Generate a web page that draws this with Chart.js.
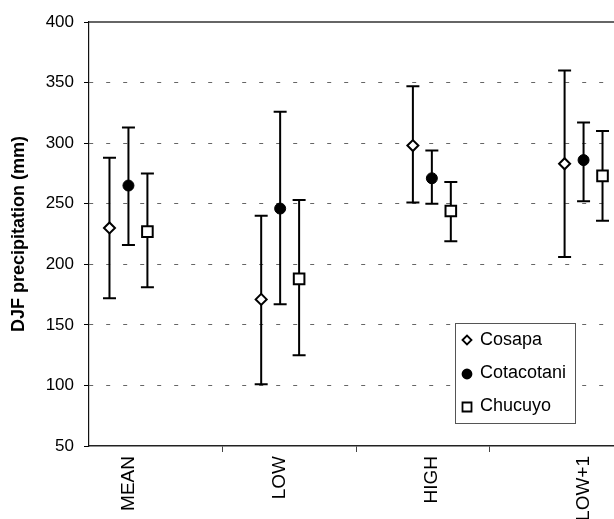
<!DOCTYPE html>
<html>
<head>
<meta charset="utf-8">
<script src="https://cdn.jsdelivr.net/npm/chart.js@4.4.1/dist/chart.umd.min.js"></script>
<style>
  html, body { margin: 0; padding: 0; background: #fff; overflow: hidden; }
  canvas { display: block; }
</style>
</head>
<body>
<canvas id="myChart" width="624" height="519"></canvas>
<script>
// categories along the bottom
var categories = ['MEAN', 'LOW', 'HIGH', 'LOW+1'];
var seriesNames = ['Cosapa', 'Cotacotani', 'Chucuyo'];

// DJF precipitation (mm): mean and error bar ends, per category
var cosapaMean = [230, 171, 298, 283];
var cosapaHigh = [288, 240, 347, 360];
var cosapaLow  = [172, 101, 251, 206];

var cotacotaniMean = [265, 246, 271, 286];
var cotacotaniHigh = [313, 326, 294, 317];
var cotacotaniLow  = [216, 167, 250, 252];

var chucuyoMean = [227, 188, 244, 273];
var chucuyoHigh = [275, 253, 268, 310];
var chucuyoLow  = [181, 125, 219, 236];

var yTicks = [50, 100, 150, 200, 250, 300, 350, 400];

var FONT = "'Liberation Sans', Arial, sans-serif";
var XMIN = -0.26, XMAX = 3.26;
var PLOT_RIGHT = 623; // plot frame runs a little past the right edge of the page

// build scatter points (x = category index shifted per series)
function makePoints(means, highs, lows, shift) {
    var pts = [];
    for (var i = 0; i < means.length; i++) {
        pts.push({ x: i + shift, y: means[i], hi: highs[i], lo: lows[i] });
    }
    return pts;
}

// error bars under the markers, plus the legend box and top frame line
var errorBarPlugin = {
    id: 'errorBars',
    afterLayout: function(chart) {
        // stretch the plot to the right so it is cut by the page edge like the original
        var area = chart.chartArea, xs = chart.scales.x;
        area.right = PLOT_RIGHT;
        area.width = area.right - area.left;
        xs.right = PLOT_RIGHT;
        xs.width = xs.right - xs.left;
        xs.configure();
    },
    beforeDatasetsDraw: function(chart) {
        var ctx = chart.ctx, xs = chart.scales.x, ys = chart.scales.y;
        ctx.save();
        ctx.strokeStyle = '#000';
        ctx.lineWidth = 2;
        chart.data.datasets.forEach(function(ds) {
            ds.data.forEach(function(p) {
                var x = xs.getPixelForValue(p.x);
                var top = ys.getPixelForValue(p.hi);
                var bot = ys.getPixelForValue(p.lo);
                ctx.beginPath();
                ctx.moveTo(x, top); ctx.lineTo(x, bot);
                ctx.moveTo(x - 6.5, top); ctx.lineTo(x + 6.5, top);
                ctx.moveTo(x - 6.5, bot); ctx.lineTo(x + 6.5, bot);
                ctx.stroke();
            });
        });
        ctx.restore();
    },
    afterDraw: function(chart) {
        var ctx = chart.ctx, area = chart.chartArea;
        ctx.save();
        // top frame
        ctx.strokeStyle = '#333';
        ctx.lineWidth = 1.5;
        ctx.beginPath();
        ctx.moveTo(area.left, area.top);
        ctx.lineTo(area.right, area.top);
        ctx.stroke();

        // legend
        var bx = 455, by = 323, bw = 120, bh = 100;
        ctx.fillStyle = '#fff';
        ctx.fillRect(bx, by, bw, bh);
        ctx.strokeStyle = '#555';
        ctx.lineWidth = 1;
        ctx.strokeRect(bx + 0.5, by + 0.5, bw, bh);
        ctx.font = '18px ' + FONT;
        ctx.textBaseline = 'middle';
        ctx.textAlign = 'left';
        chart.data.datasets.forEach(function(ds, i) {
            var cy = by + 17 + i * 33, cx = bx + 12;
            ctx.lineWidth = 1.8;
            ctx.strokeStyle = '#000';
            ctx.fillStyle = ds.backgroundColor;
            ctx.beginPath();
            if (ds.pointStyle === 'rectRot') {
                ctx.moveTo(cx - 4.5, cy); ctx.lineTo(cx, cy - 4.5);
                ctx.lineTo(cx + 4.5, cy); ctx.lineTo(cx, cy + 4.5);
                ctx.closePath();
            } else if (ds.pointStyle === 'circle') {
                ctx.arc(cx, cy + 1, 4.5, 0, Math.PI * 2);
            } else {
                ctx.rect(cx - 4.5, cy - 3.5, 9, 9);
            }
            ctx.fill();
            ctx.stroke();
            ctx.fillStyle = '#000';
            ctx.fillText(ds.label, cx + 13, cy);
        });
        ctx.restore();
    }
};

var ctx = document.getElementById('myChart').getContext('2d');

var chart = new Chart(ctx, {
    type: 'scatter',
    data: {
        datasets: [
            {
                label: seriesNames[0],
                data: makePoints(cosapaMean, cosapaHigh, cosapaLow, -0.125),
                pointStyle: 'rectRot',
                pointRadius: 5.5,
                backgroundColor: '#fff',
                borderColor: '#000',
                borderWidth: 2
            },
            {
                label: seriesNames[1],
                data: makePoints(cotacotaniMean, cotacotaniHigh, cotacotaniLow, 0),
                pointStyle: 'circle',
                pointRadius: 5.5,
                backgroundColor: '#000',
                borderColor: '#000',
                borderWidth: 1
            },
            {
                label: seriesNames[2],
                data: makePoints(chucuyoMean, chucuyoHigh, chucuyoLow, 0.125),
                pointStyle: 'rect',
                pointRadius: 7.5,
                backgroundColor: '#fff',
                borderColor: '#000',
                borderWidth: 2
            }
        ]
    },
    options: {
        responsive: false,
        animation: false,
        layout: { padding: { top: 22, right: 1, left: 0, bottom: 0 } },
        plugins: {
            legend: { display: false },
            tooltip: { enabled: false }
        },
        scales: {
            x: {
                type: 'linear',
                min: XMIN,
                max: XMAX,
                afterBuildTicks: function(scale) {
                    // category labels at integers, category boundaries as plain tick marks
                    var vals = [];
                    for (var i = 0; i < categories.length; i++) {
                        vals.push(i);
                        if (i < categories.length - 1) {
                            vals.push(XMIN + (i + 1) * (XMAX - XMIN) / categories.length);
                        }
                    }
                    scale.ticks = vals.map(function(v) { return { value: v }; });
                },
                afterFit: function(scale) { scale.height = 73; },
                ticks: {
                    autoSkip: false,
                    minRotation: 90,
                    maxRotation: 90,
                    padding: 4,
                    color: '#000',
                    font: { family: FONT, size: 19 },
                    callback: function(v) {
                        return Number.isInteger(v) ? categories[v] : '';
                    }
                },
                grid: {
                    drawOnChartArea: false,
                    tickLength: 6,
                    tickColor: function(c) {
                        return Number.isInteger(c.tick.value) ? 'rgba(0,0,0,0)' : '#444';
                    }
                },
                border: { color: '#222', width: 1.5 }
            },
            y: {
                min: 50,
                max: 400,
                afterBuildTicks: function(scale) {
                    scale.ticks = yTicks.map(function(v) { return { value: v }; });
                },
                afterFit: function(scale) { scale.width = 89; },
                ticks: {
                    padding: 10,
                    color: '#000',
                    font: { family: FONT, size: 17 }
                },
                grid: {
                    color: function(c) {
                        var v = c.tick.value;
                        return (v === 50 || v === 400) ? 'rgba(0,0,0,0)' : '#666';
                    },
                    tickColor: '#000',
                    tickLength: 5,
                    lineWidth: 1
                },
                border: { color: '#111', width: 1.2, dash: [4, 13] },
                title: {
                    display: true,
                    text: 'DJF precipitation (mm)',
                    color: '#000',
                    font: { family: FONT, size: 18, weight: 'bold' },
                    padding: { top: 8, bottom: 0 }
                }
            }
        }
    },
    plugins: [errorBarPlugin]
});
</script>
</body>
</html>
